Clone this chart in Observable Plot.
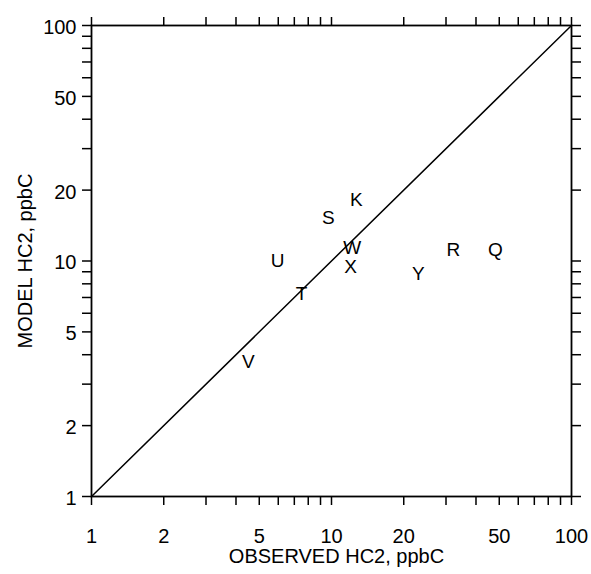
<!DOCTYPE html>
<html>
<head>
<meta charset="utf-8">
<script src="https://cdn.jsdelivr.net/npm/d3@7"></script>
<script src="https://cdn.jsdelivr.net/npm/@observablehq/plot@0.6"></script>
<style>
  html, body { margin: 0; padding: 0; background: #fff; }
  #chart svg { display: block; }
</style>
</head>
<body>
<div id="chart"></div>
<script>
// Site labels with observed and modelled HC2 (ppbC)
const sites    = ["K", "S", "W", "X", "U", "T", "V", "Y", "R", "Q"];
const observed = [12.7, 9.7, 12.2, 12.0, 5.96, 7.5, 4.5, 23.0, 32.2, 48.2];
const modelled = [18.1, 15.2, 11.4, 9.4, 10.0, 7.28, 3.74, 8.85, 11.2, 11.2];

// 1:1 reference line end points
const oneToOneX = [1, 100];
const oneToOneY = [1, 100];

// Axis ticks: labelled values and every log tick mark
const tickLabels = [1, 2, 5, 10, 20, 50, 100];
const tickMarks  = [1, 2, 3, 4, 5, 6, 7, 8, 9, 10, 20, 30, 40, 50, 60, 70, 80, 90, 100];

const xTitle = "OBSERVED HC2, ppbC";
const yTitle = "MODEL HC2, ppbC";

const points = sites.map((s, i) => ({site: s, obs: observed[i], mod: modelled[i]}));
const diag = oneToOneX.map((x, i) => ({x, y: oneToOneY[i]}));

const tickStyle = {tickSize: 9, strokeWidth: 1.5, fill: "none", label: null};

const chart = Plot.plot({
  width: 591,
  height: 574,
  marginLeft: 91,
  marginRight: 20,
  marginTop: 25,
  marginBottom: 78,
  style: {fontFamily: "'Liberation Sans', Arial, Helvetica, sans-serif", color: "#000", background: "#fff"},
  x: {type: "log", domain: [1, 100], axis: null},
  y: {type: "log", domain: [1, 100], axis: null},
  marks: [
    Plot.frame({stroke: "#000", strokeWidth: 1.8}),
    // tick marks on all four sides
    Plot.axisX(tickMarks, {anchor: "bottom", ...tickStyle}),
    Plot.axisX(tickMarks, {anchor: "top", ...tickStyle}),
    Plot.axisY(tickMarks, {anchor: "left", ...tickStyle}),
    Plot.axisY(tickMarks, {anchor: "right", ...tickStyle}),
    // tick labels
    Plot.text(tickLabels, {x: d => d, frameAnchor: "bottom", lineAnchor: "middle", textAnchor: "middle",
                           dy: 40, fontSize: 20, fill: "#000", text: d => String(d)}),
    Plot.text(tickLabels, {y: d => d, frameAnchor: "left", lineAnchor: "middle", textAnchor: "end",
                           dx: -15, dy: 2, fontSize: 20, fill: "#000", text: d => String(d)}),
    // 1:1 line
    Plot.line(diag, {x: "x", y: "y", stroke: "#000", strokeWidth: 1.5}),
    // site letters
    Plot.text(points, {x: "obs", y: "mod", text: "site", fontSize: 19, fill: "#000"}),
    // axis titles
    Plot.text([xTitle], {frameAnchor: "bottom", lineAnchor: "middle", textAnchor: "middle",
                         dy: 60, dx: 5, fontSize: 20, fill: "#000"}),
    Plot.text([yTitle], {frameAnchor: "left", lineAnchor: "middle", textAnchor: "middle",
                         dx: -66, rotate: -90, fontSize: 20, fill: "#000"})
  ]
});

document.getElementById("chart").appendChild(chart);
</script>
</body>
</html>
